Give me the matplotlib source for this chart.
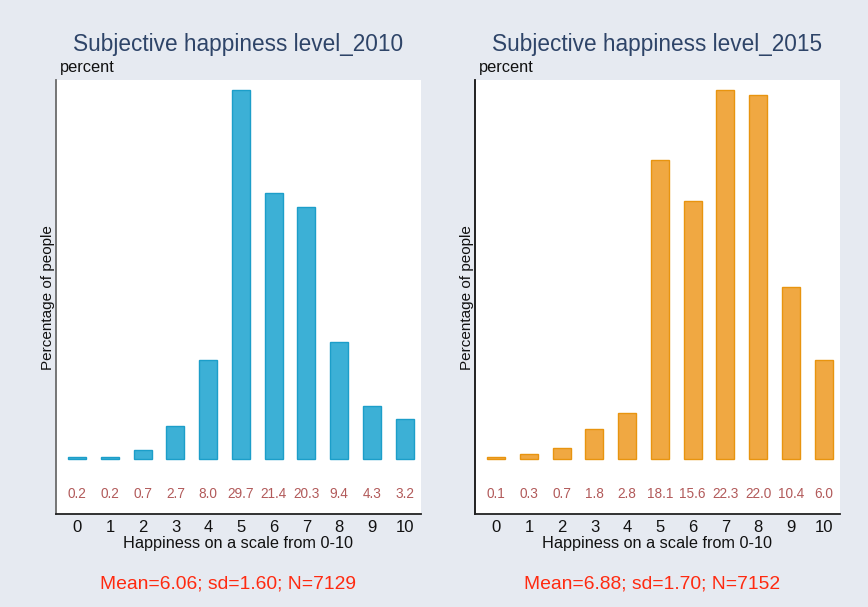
import matplotlib.pyplot as plt
import matplotlib.transforms as mtransforms

plt.rcParams['font.family'] = ['Liberation Sans', 'DejaVu Sans']

# happiness score 0-10 and share of respondents (%)
scores = list(range(11))
pct_2010 = [0.2, 0.2, 0.7, 2.7, 8.0, 29.7, 21.4, 20.3, 9.4, 4.3, 3.2]
pct_2015 = [0.1, 0.3, 0.7, 1.8, 2.8, 18.1, 15.6, 22.3, 22.0, 10.4, 6.0]
titles = ['Subjective happiness level_2010', 'Subjective happiness level_2015']
stats = ['Mean=6.06; sd=1.60; N=7129', 'Mean=6.88; sd=1.70; N=7152']

bg = '#e6eaf1'
fig = plt.figure(figsize=(8.68, 6.07), dpi=100, facecolor=bg)

panels = [
    ([0.0645, 0.153, 0.4205, 0.715], pct_2010, '#3cb0d6', '#1c9ec9', '#6b6b6b', 0.263),
    ([0.5472, 0.153, 0.4205, 0.715], pct_2015, '#f0a842', '#e8940f', '#111111', 0.751),
]

for i, (pos, vals, fc, ec, lcol, note_x) in enumerate(panels):
    ax = fig.add_axes(pos)
    ax.set_facecolor('white')
    ax.bar(scores, vals, width=0.55, color=fc, edgecolor=ec, linewidth=1)

    # leave room under the bars for the value labels
    top = max(vals)
    span = top / 0.8503
    lo = -0.1267 * span
    ax.set_ylim(lo, lo + span)
    ax.set_xlim(-0.65, 10.5)

    trans = mtransforms.blended_transform_factory(ax.transData, ax.transAxes)
    for x, v in zip(scores, vals):
        ax.text(x, 0.046, f'{v:.1f}', transform=trans, ha='center', va='center',
                fontsize=9.8, color='#b25a5a')

    ax.set_xticks(scores)
    ax.set_xticklabels([str(s) for s in scores])
    ax.tick_params(axis='x', length=0, pad=4, labelsize=12, colors='#111111')
    ax.set_yticks([])

    for side in ['top', 'right']:
        ax.spines[side].set_visible(False)
    ax.spines['left'].set_color(lcol)
    ax.spines['left'].set_linewidth(1.3)
    ax.spines['bottom'].set_color('#222222')
    ax.spines['bottom'].set_linewidth(1.3)

    ax.set_xlabel('Happiness on a scale from 0-10', fontsize=11.7, labelpad=1, color='#111111')
    ax.set_ylabel('Percentage of people', fontsize=11, labelpad=1, color='#111111')
    ax.set_title(titles[i], fontsize=16.3, color='#2e4468', pad=21)
    ax.text(0.01, 1.012, 'percent', transform=ax.transAxes, fontsize=11.8,
            ha='left', va='bottom', color='#111111')

    fig.text(note_x, 0.038, stats[i], ha='center', va='center',
             fontsize=13.9, color='#ff2a10')

fig.savefig('out.png', dpi=100, facecolor=bg)
